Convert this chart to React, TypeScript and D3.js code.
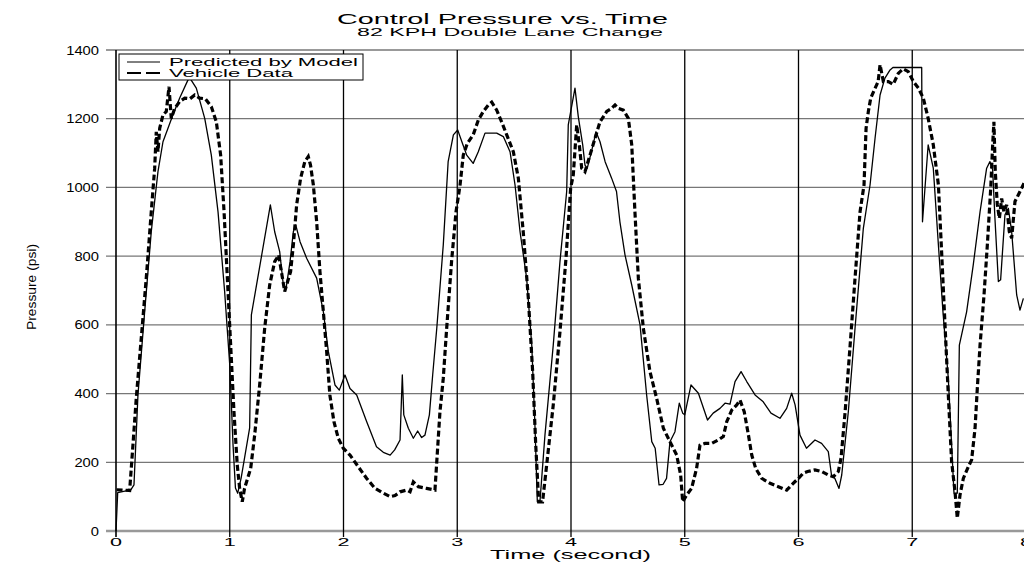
import * as d3 from "d3";
import { useEffect } from "react";

// readings taken off the original plot (time in s, pressure in psi)
const modelTime = [
  0, 0.015, 0.13, 0.158, 0.193, 0.252, 0.31, 0.369, 0.413, 0.457, 0.5, 0.56, 0.633, 0.65, 0.706, 0.78, 0.838, 0.897,
  0.955, 1.0, 1.029, 1.05, 1.07, 1.1, 1.175, 1.19, 1.357, 1.395, 1.439, 1.471, 1.495, 1.53, 1.559, 1.58, 1.618, 1.676,
  1.764, 1.823, 1.867, 1.925, 1.963, 2.013, 2.057, 2.116, 2.204, 2.29, 2.35, 2.41, 2.45, 2.497, 2.517, 2.53, 2.57,
  2.614, 2.652, 2.687, 2.716, 2.755, 2.784, 2.82, 2.877, 2.92, 2.966, 3.004, 3.05, 3.083, 3.14, 3.185, 3.244, 3.347,
  3.405, 3.464, 3.508, 3.552, 3.61, 3.655, 3.684, 3.704, 3.727, 3.771, 3.844, 3.903, 3.962, 3.976, 4.035, 4.064,
  4.103, 4.123, 4.143, 4.18, 4.22, 4.255, 4.3, 4.357, 4.4, 4.43, 4.475, 4.534, 4.607, 4.665, 4.71, 4.74, 4.774, 4.81,
  4.84, 4.87, 4.914, 4.952, 4.982, 5.0, 5.055, 5.12, 5.2, 5.25, 5.31, 5.354, 5.398, 5.442, 5.495, 5.545, 5.618, 5.69,
  5.758, 5.837, 5.896, 5.94, 5.97, 6.013, 6.07, 6.145, 6.203, 6.262, 6.29, 6.32, 6.356, 6.38, 6.438, 6.497, 6.57,
  6.629, 6.673, 6.717, 6.76, 6.805, 6.83, 7.083, 7.09, 7.14, 7.185, 7.23, 7.27, 7.317, 7.346, 7.367, 7.396, 7.414,
  7.478, 7.536, 7.596, 7.654, 7.683, 7.707, 7.727, 7.757, 7.777, 7.815, 7.845, 7.874, 7.918, 7.947, 7.977,
];
const modelPressure = [
  0, 112, 120, 134, 396, 638, 871, 1046, 1133, 1172, 1211, 1260, 1313, 1318, 1289, 1201, 1094, 929, 697, 483, 250,
  125, 110, 154, 300, 629, 949, 871, 813, 716, 706, 784, 871, 891, 842, 794, 736, 638, 522, 425, 410, 454, 415, 396,
  318, 245, 229, 221, 236, 265, 454, 338, 299, 270, 291, 272, 279, 338, 454, 590, 832, 1075, 1153, 1167, 1124, 1094,
  1070, 1104, 1158, 1158, 1148, 1104, 1007, 871, 736, 541, 299, 85, 85, 279, 541, 784, 988, 1182, 1289, 1206, 1124,
  1065, 1056, 1104, 1162, 1133, 1075, 1027, 988, 900, 803, 716, 600, 396, 260, 241, 134, 136, 153, 260, 289, 372,
  343, 338, 425, 401, 323, 343, 357, 372, 369, 435, 464, 435, 396, 376, 343, 328, 357, 401, 367, 279, 241, 265, 255,
  231, 163, 153, 124, 163, 347, 590, 881, 1007, 1143, 1269, 1318, 1342, 1349, 1349, 900, 1124, 1056, 832, 638, 444,
  250, 110, 110, 541, 638, 774, 929, 1056, 1075, 1051, 910, 726, 731, 920, 939, 871, 687, 643, 677,
];

const vehicleTime = [
  0.005, 0.12, 0.149, 0.178, 0.222, 0.266, 0.31, 0.34, 0.354, 0.369, 0.384, 0.413, 0.442, 0.466, 0.486, 0.516, 0.56,
  0.604, 0.65, 0.692, 0.735, 0.785, 0.838, 0.882, 0.92, 0.95, 0.979, 1.008, 1.037, 1.066, 1.087, 1.11, 1.13, 1.184,
  1.219, 1.263, 1.307, 1.351, 1.395, 1.43, 1.459, 1.483, 1.5, 1.535, 1.559, 1.588, 1.623, 1.66, 1.69, 1.71, 1.735,
  1.764, 1.793, 1.823, 1.852, 1.88, 1.916, 1.954, 1.998, 2.057, 2.13, 2.204, 2.277, 2.35, 2.41, 2.453, 2.497, 2.555,
  2.585, 2.614, 2.658, 2.73, 2.804, 2.82, 2.848, 2.877, 2.907, 2.95, 2.989, 3.024, 3.053, 3.088, 3.14, 3.185, 3.229,
  3.273, 3.303, 3.347, 3.39, 3.435, 3.493, 3.537, 3.58, 3.625, 3.663, 3.69, 3.716, 3.75, 3.786, 3.844, 3.903, 3.956,
  3.997, 4.02, 4.05, 4.073, 4.094, 4.123, 4.167, 4.211, 4.255, 4.314, 4.357, 4.387, 4.416, 4.46, 4.504, 4.534, 4.562,
  4.592, 4.636, 4.694, 4.753, 4.812, 4.87, 4.929, 4.964, 4.982, 5.017, 5.06, 5.104, 5.134, 5.178, 5.237, 5.295, 5.339,
  5.369, 5.413, 5.457, 5.486, 5.523, 5.56, 5.589, 5.624, 5.677, 5.75, 5.823, 5.896, 5.94, 5.97, 6.0, 6.04, 6.08,
  6.145, 6.204, 6.262, 6.306, 6.35, 6.374, 6.41, 6.454, 6.497, 6.541, 6.576, 6.594, 6.614, 6.635, 6.667, 6.7, 6.717,
  6.746, 6.79, 6.833, 6.877, 6.92, 6.965, 7.01, 7.054, 7.097, 7.14, 7.185, 7.23, 7.258, 7.288, 7.317, 7.346, 7.376,
  7.396, 7.42, 7.449, 7.493, 7.522, 7.552, 7.572, 7.596, 7.631, 7.66, 7.69, 7.707, 7.718, 7.73, 7.748, 7.766, 7.786,
  7.806, 7.83, 7.853, 7.874, 7.903, 7.932, 7.962, 7.982,
];
const vehiclePressure = [
  120, 118, 250, 386, 561, 736, 929, 1056, 1162, 1104, 1172, 1211, 1221, 1293, 1201, 1230, 1250, 1260, 1258, 1269,
  1260, 1258, 1235, 1191, 1094, 929, 736, 541, 347, 192, 124, 85, 124, 182, 279, 425, 590, 716, 784, 803, 745, 697,
  716, 755, 832, 949, 1027, 1075, 1090, 1065, 1007, 900, 755, 638, 522, 396, 318, 270, 241, 221, 187, 153, 124, 110,
  100, 103, 114, 119, 114, 143, 129, 124, 119, 202, 347, 444, 590, 784, 929, 1005, 1094, 1128, 1153, 1196, 1221,
  1240, 1248, 1225, 1191, 1153, 1104, 1027, 871, 677, 464, 250, 85, 85, 192, 367, 580, 794, 998, 1036, 1182, 1124,
  1056, 1046, 1094, 1143, 1191, 1221, 1230, 1240, 1230, 1225, 1201, 1124, 929, 736, 590, 464, 386, 299, 260, 221,
  163, 85, 105, 124, 182, 250, 255, 255, 265, 275, 318, 352, 367, 381, 347, 279, 221, 182, 153, 139, 129, 119, 134,
  144, 153, 168, 173, 178, 173, 163, 158, 173, 212, 347, 541, 736, 929, 1007, 1172, 1221, 1260, 1284, 1308, 1357,
  1308, 1308, 1300, 1332, 1345, 1337, 1308, 1289, 1260, 1201, 1124, 1007, 813, 600, 396, 202, 114, 37, 105, 153,
  187, 207, 299, 415, 541, 687, 832, 998, 1124, 1191, 1046, 949, 910, 968, 929, 949, 871, 852, 959, 978, 998, 1012,
];

const xTicks = [0, 1, 2, 3, 4, 5, 6, 7, 8];
const yTicks = [0, 200, 400, 600, 800, 1000, 1200, 1400];

const font = "'Liberation Sans', Arial, sans-serif";

function App() {
  useEffect(() => {
    d3.select("#chart").select("svg").remove();
    const svg = d3
      .select("#chart")
      .append("svg")
      .attr("width", 1024)
      .attr("height", 563)
      .style("position", "absolute")
      .style("left", 0)
      .style("top", 0)
      .style("background", "#fff");

    const x = d3.scaleLinear().domain([0, 8]).range([116, 1026]);
    const y = d3.scaleLinear().domain([0, 1400]).range([531, 50]);

    // horizontal grid (grey) with left ticks
    svg
      .append("g")
      .selectAll("line")
      .data(yTicks)
      .join("line")
      .attr("x1", 106)
      .attr("x2", 1026)
      .attr("y1", (d) => y(d))
      .attr("y2", (d) => y(d))
      .attr("stroke", (d) => (d === 0 ? "#999" : "#777"))
      .attr("stroke-width", (d) => (d === 0 ? 2.5 : 1.3));

    // vertical grid (black) with bottom ticks
    svg
      .append("g")
      .selectAll("line")
      .data(xTicks)
      .join("line")
      .attr("x1", (d) => x(d))
      .attr("x2", (d) => x(d))
      .attr("y1", 50)
      .attr("y2", 537)
      .attr("stroke", "#000")
      .attr("stroke-width", (d) => (d === 0 ? 1.6 : 1.3));

    svg
      .append("g")
      .selectAll("text")
      .data(yTicks)
      .join("text")
      .attr("x", 99)
      .attr("y", (d) => y(d) + 4.5)
      .attr("text-anchor", "end")
      .attr("font-family", font)
      .attr("font-size", 12.5)
      .attr("textLength", (d) => String(d).length * 8.2)
      .attr("lengthAdjust", "spacingAndGlyphs")
      .text((d) => d);

    svg
      .append("g")
      .selectAll("text")
      .data(xTicks)
      .join("text")
      .attr("x", (d) => x(d) - 6)
      .attr("y", 546)
      .attr("font-family", font)
      .attr("font-size", 10)
      .attr("textLength", 12)
      .attr("lengthAdjust", "spacingAndGlyphs")
      .text((d) => d);

    const line = (xs: number[], ys: number[]) =>
      d3
        .line<number>()
        .x((_, i) => x(xs[i]))
        .y((d) => y(d))(ys);

    svg
      .append("path")
      .attr("d", line(modelTime, modelPressure))
      .attr("fill", "none")
      .attr("stroke", "#000")
      .attr("stroke-width", 1.3)
      .attr("stroke-linejoin", "round");

    svg
      .append("path")
      .attr("d", line(vehicleTime, vehiclePressure))
      .attr("fill", "none")
      .attr("stroke", "#000")
      .attr("stroke-width", 3.2)
      .attr("stroke-dasharray", "6,3");

    // legend
    const legend = svg.append("g");
    legend
      .append("rect")
      .attr("x", 119)
      .attr("y", 54)
      .attr("width", 244)
      .attr("height", 26)
      .attr("fill", "#fff")
      .attr("stroke", "#000")
      .attr("stroke-width", 1);
    legend
      .append("line")
      .attr("x1", 127)
      .attr("x2", 160)
      .attr("y1", 62)
      .attr("y2", 62)
      .attr("stroke", "#000")
      .attr("stroke-width", 1);
    legend
      .append("line")
      .attr("x1", 127)
      .attr("x2", 160)
      .attr("y1", 73)
      .attr("y2", 73)
      .attr("stroke", "#000")
      .attr("stroke-width", 2)
      .attr("stroke-dasharray", "14,5");
    legend
      .append("text")
      .attr("x", 169)
      .attr("y", 66)
      .attr("font-family", font)
      .attr("font-size", 10.5)
      .attr("textLength", 189)
      .attr("lengthAdjust", "spacingAndGlyphs")
      .text("Predicted by Model");
    legend
      .append("text")
      .attr("x", 169)
      .attr("y", 77)
      .attr("font-family", font)
      .attr("font-size", 10.5)
      .attr("textLength", 124)
      .attr("lengthAdjust", "spacingAndGlyphs")
      .text("Vehicle Data");

    // titles
    svg
      .append("text")
      .attr("x", 337)
      .attr("y", 24)
      .attr("font-family", font)
      .attr("font-size", 15)
      .attr("textLength", 331)
      .attr("lengthAdjust", "spacingAndGlyphs")
      .text("Control Pressure vs. Time");
    svg
      .append("text")
      .attr("x", 357)
      .attr("y", 36)
      .attr("font-family", font)
      .attr("font-size", 11)
      .attr("textLength", 306)
      .attr("lengthAdjust", "spacingAndGlyphs")
      .text("82 KPH Double Lane Change");
    svg
      .append("text")
      .attr("x", 490)
      .attr("y", 559)
      .attr("font-family", font)
      .attr("font-size", 13.5)
      .attr("textLength", 161)
      .attr("lengthAdjust", "spacingAndGlyphs")
      .text("Time (second)");
    svg
      .append("text")
      .attr("transform", "translate(36,330) rotate(-90)")
      .attr("font-family", font)
      .attr("font-size", 12)
      .attr("textLength", 86)
      .attr("lengthAdjust", "spacingAndGlyphs")
      .text("Pressure (psi)");
  }, []);

  return <div id="chart"></div>;
}

export default App;
